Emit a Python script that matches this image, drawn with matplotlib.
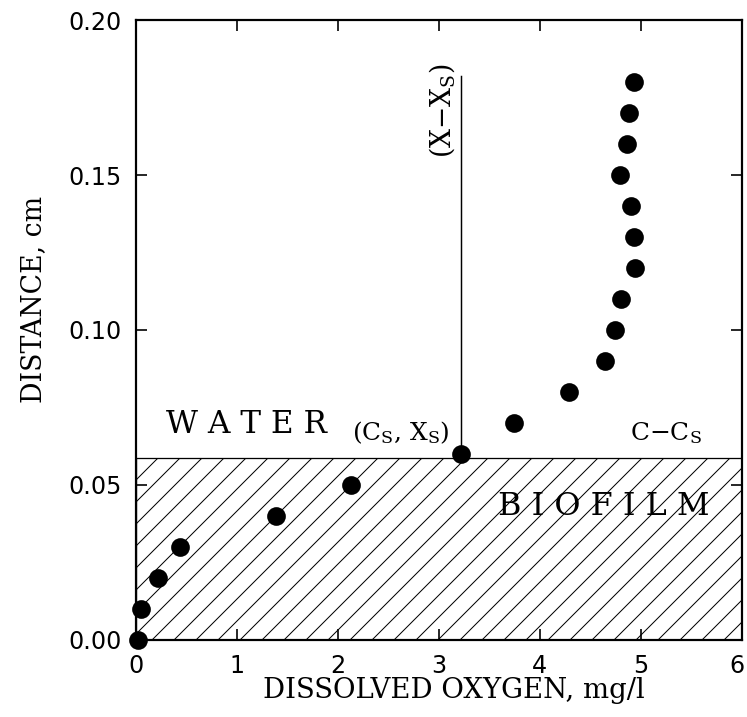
import matplotlib
matplotlib.use("Agg")
import matplotlib.pyplot as plt
import matplotlib.transforms as mtransforms

# data: dissolved oxygen (mg/l) vs distance (cm)
oxygen = [0.02, 0.05, 0.22, 0.44, 1.39, 2.13, 3.22, 3.74, 4.29, 4.64, 4.74,
          4.80, 4.94, 4.93, 4.90, 4.79, 4.86, 4.88, 4.93]
distance = [0.0, 0.01, 0.02, 0.03, 0.04, 0.05, 0.06, 0.07, 0.08, 0.09, 0.10,
            0.11, 0.12, 0.13, 0.14, 0.15, 0.16, 0.17, 0.18]
biofilm_top = 0.0587
surface_x = 3.22
surface_line_top = 0.182
xticks = [0, 1, 2, 3, 4, 5, 6]
yticks = [0.00, 0.05, 0.10, 0.15, 0.20]
ytick_labels = ["0.00", "0.05", "0.10", "0.15", "0.20"]

DPI = 132
plt.rcParams['hatch.linewidth'] = 0.55
plt.rcParams['mathtext.fontset'] = 'dejavuserif'
fig = plt.figure(figsize=(747 / DPI, 717 / DPI), dpi=DPI)
ax = fig.add_axes([0.1814, 0.1074, 0.8119, 0.8647])

serif = "DejaVu Serif"

ax.fill_between([0, 6], 0, biofilm_top, facecolor="white", edgecolor="black",
                hatch="//", linewidth=0.7, zorder=1)
ax.plot([surface_x, surface_x], [biofilm_top, surface_line_top], color="black",
        lw=0.8, zorder=2)
ax.plot(oxygen, distance, "o", color="black", markersize=9.2, zorder=4, clip_on=False)

ax.set_xlim(0, 6)
ax.set_ylim(0, 0.20)
ax.set_xticks(xticks)
ax.set_yticks(yticks)
ax.set_yticklabels(ytick_labels)
ax.tick_params(direction="in", length=6, width=0.9, top=True, right=True,
               labelsize=13, pad=7.5)
for lab in ax.get_xticklabels() + ax.get_yticklabels():
    lab.set_family("DejaVu Sans")
# keep the last x tick label inside the canvas
last = ax.get_xticklabels()[-1]
last.set_transform(last.get_transform() +
                   mtransforms.ScaledTranslation(-5 / DPI, 0, fig.dpi_scale_trans))
for s in ax.spines.values():
    s.set_linewidth(1.2)

ax.set_xlabel("DISSOLVED OXYGEN, mg/l", family=serif, fontsize=15)
ax.set_ylabel("DISTANCE, cm", family=serif, fontsize=14.6)
ax.xaxis.set_label_coords(0.525, -0.06)
ax.yaxis.set_label_coords(-0.146, 0.55)

ax.text(1.10, 0.0695, "W A T E R", family=serif, fontsize=17, ha="center", va="center")
ax.text(4.63, 0.0432, "B I O F I L M", family=serif, fontsize=17.4, ha="center",
        va="center", zorder=3)
ax.text(3.11, 0.0625, r"(C$_\mathrm{S}$, X$_\mathrm{S}$)", family=serif, fontsize=13.6,
        ha="right", va="bottom")
ax.text(5.25, 0.0625, r"C$-$C$_\mathrm{S}$", family=serif, fontsize=13.6,
        ha="center", va="bottom")
ax.text(3.03, 0.1706, r"(X$-$X$_\mathrm{S}$)", family=serif, fontsize=14.5,
        ha="center", va="center", rotation=90)

fig.savefig("out.png", dpi=DPI)
